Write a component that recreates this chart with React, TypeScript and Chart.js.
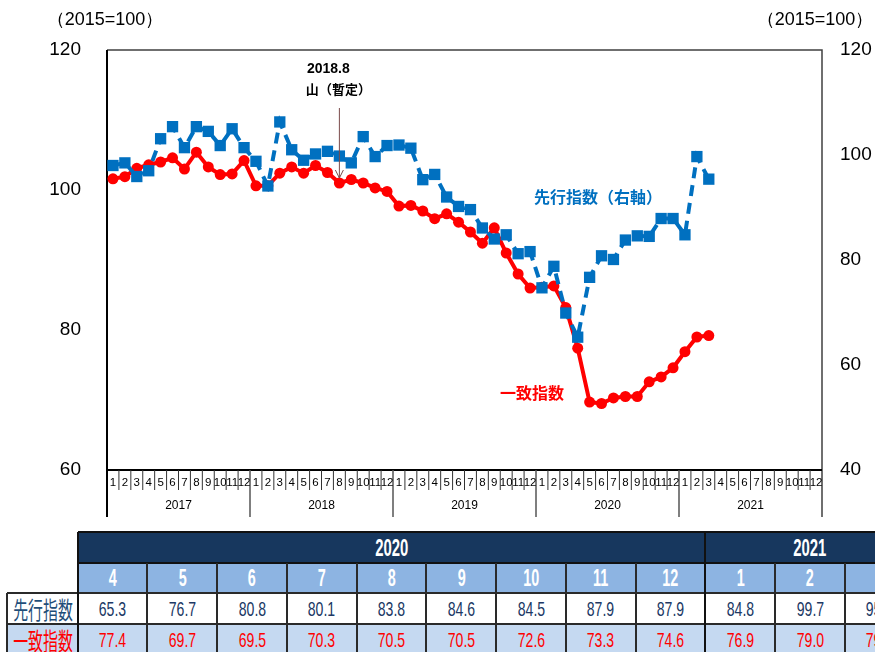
import React, { useEffect, useRef } from 'react';
import { Chart, registerables } from 'chart.js';

Chart.register(...registerables);

// ---------- data ----------
const YEARS = ['2017', '2018', '2019', '2020', '2021'];
const MONTHS = ['1', '2', '3', '4', '5', '6', '7', '8', '9', '10', '11', '12'];
const CATEGORIES = YEARS.flatMap((y) => MONTHS.map((m) => `${y}-${m}`));

// 先行指数 (right axis)
const LEADING: (number | null)[] = [
  98.0, 98.5, 95.9, 97.0, 103.1, 105.4, 101.4, 105.4, 104.5, 101.8, 105.0, 101.4,
  98.8, 94.1, 106.3, 101.0, 99.0, 100.2, 100.7, 99.8, 98.5, 103.5, 99.7, 101.8,
  101.9, 101.3, 95.3, 96.3, 92.0, 90.2, 89.6, 86.1, 84.0, 84.8, 81.2, 81.6,
  74.7, 78.8, 69.9, 65.3, 76.7, 80.8, 80.1, 83.8, 84.6, 84.5, 87.9, 87.9,
  84.8, 99.7, 95.4, null, null, null, null, null, null, null, null, null,
];

// 一致指数 (left axis)
const COINCIDENT: (number | null)[] = [
  101.6, 101.9, 103.1, 103.6, 104.0, 104.6, 103.0, 105.4, 103.3, 102.2, 102.3, 104.2,
  100.6, 100.6, 102.4, 103.3, 102.4, 103.5, 102.5, 101.0, 101.5, 101.0, 100.3, 99.8,
  97.7, 97.8, 97.0, 95.9, 96.6, 95.4, 94.0, 92.4, 94.6, 91.0, 88.0, 86.0,
  86.1, 86.3, 83.2, 77.4, 69.7, 69.5, 70.3, 70.5, 70.5, 72.6, 73.3, 74.6,
  76.9, 79.0, 79.2, null, null, null, null, null, null, null, null, null,
];

const LEFT_MIN = 60;
const LEFT_MAX = 120;
const RIGHT_MIN = 40;
const RIGHT_MAX = 120;
const TICK_STEP = 20;

const PEAK_INDEX = 19; // 2018.8
const PEAK_LABEL = '2018.8';
const PEAK_LABEL2 = '山（暫定）';
const AXIS_TITLE = '（2015=100）';
const LEADING_NAME = '先行指数';
const COINCIDENT_NAME = '一致指数';
const LEADING_LABEL = '先行指数（右軸）';

// table: 2020.4 .. 2021.3
const TABLE_START = 39;
const TABLE_END = 51;

// ---------- styles ----------
const RED = '#ff0000';
const BLUE = '#0070c0';
const NUM_FONT = "'Liberation Sans', Arial, sans-serif";
const JP_FONT = "'Noto Sans CJK JP', 'Noto Sans', sans-serif";

const overlayPlugin = {
  id: 'overlay',
  beforeDatasetsDraw(chart: any) {
    const { ctx, chartArea } = chart;
    const { left, right, top, bottom } = chartArea;
    ctx.save();
    // frame
    ctx.strokeStyle = '#404040';
    ctx.lineWidth = 1.5;
    ctx.beginPath();
    ctx.moveTo(left, top);
    ctx.lineTo(right, top);
    ctx.lineTo(right, bottom + 47);
    ctx.stroke();
    ctx.strokeStyle = '#000';
    ctx.lineWidth = 2;
    ctx.beginPath();
    ctx.moveTo(left, top);
    ctx.lineTo(left, bottom + 47);
    ctx.moveTo(left, bottom);
    ctx.lineTo(right, bottom);
    ctx.stroke();

    // category axis (months & years)
    const x = chart.scales.x;
    const n = CATEGORIES.length;
    const w = (right - left) / n;
    for (let i = 1; i < n; i++) {
      const px = x.getPixelForValue(i) - w / 2;
      ctx.beginPath();
      if (i % 12 === 0) {
        ctx.strokeStyle = '#555';
        ctx.lineWidth = 1.5;
        ctx.moveTo(px, bottom);
        ctx.lineTo(px, bottom + 47);
      } else {
        ctx.strokeStyle = '#333';
        ctx.lineWidth = 1;
        ctx.moveTo(px, bottom);
        ctx.lineTo(px, bottom + 20);
      }
      ctx.stroke();
    }
    ctx.fillStyle = '#000';
    ctx.textAlign = 'center';
    ctx.textBaseline = 'middle';
    ctx.font = `11.5px ${NUM_FONT}`;
    for (let i = 0; i < n; i++) {
      ctx.fillText(MONTHS[i % 12], x.getPixelForValue(i), bottom + 13);
    }
    ctx.font = `12px ${NUM_FONT}`;
    YEARS.forEach((y, k) => {
      const a = x.getPixelForValue(k * 12) - w / 2;
      const b = x.getPixelForValue(k * 12 + 11) + w / 2;
      ctx.fillText(y, (a + b) / 2, bottom + 36);
    });

    // axis titles
    ctx.font = `18px ${NUM_FONT}`;
    ctx.fillText(AXIS_TITLE, 105, 20);
    ctx.fillText(AXIS_TITLE, 815, 20);
    ctx.restore();
  },
  afterDatasetsDraw(chart: any) {
    const { ctx } = chart;
    const x = chart.scales.x;
    const y = chart.scales.y;
    const px = x.getPixelForValue(PEAK_INDEX);
    const py = y.getPixelForValue(COINCIDENT[PEAK_INDEX] as number) - 5;
    ctx.save();
    ctx.strokeStyle = '#7a4a4a';
    ctx.lineWidth = 1;
    ctx.beginPath();
    ctx.moveTo(px, 108);
    ctx.lineTo(px, py);
    ctx.moveTo(px - 4, py - 8);
    ctx.lineTo(px, py);
    ctx.lineTo(px + 4, py - 8);
    ctx.stroke();

    ctx.fillStyle = '#000';
    ctx.textAlign = 'center';
    ctx.textBaseline = 'middle';
    ctx.font = `bold 14px ${NUM_FONT}`;
    ctx.fillText(PEAK_LABEL, px - 11, 69);
    ctx.font = `bold 13px ${JP_FONT}`;
    ctx.fillText(PEAK_LABEL2, px - 1, 89);

    ctx.font = `bold 16px ${JP_FONT}`;
    ctx.fillStyle = BLUE;
    ctx.textAlign = 'left';
    ctx.fillText(LEADING_LABEL, 534, 197);
    ctx.fillStyle = RED;
    ctx.fillText(COINCIDENT_NAME, 500, 393);
    ctx.restore();
  },
};

function ChartCanvas() {
  const ref = useRef<HTMLCanvasElement | null>(null);
  useEffect(() => {
    if (!ref.current) return;
    const chart = new Chart(ref.current, {
      type: 'line',
      data: {
        labels: CATEGORIES,
        datasets: [
          {
            label: LEADING_NAME,
            data: LEADING,
            yAxisID: 'y2',
            borderColor: BLUE,
            backgroundColor: BLUE,
            borderWidth: 4,
            borderDash: [11, 7],
            pointStyle: 'rect',
            pointRadius: 8,
            pointBackgroundColor: BLUE,
            pointBorderColor: BLUE,
            pointBorderWidth: 0,
            tension: 0,
            order: 0,
          },
          {
            label: COINCIDENT_NAME,
            data: COINCIDENT,
            yAxisID: 'y',
            borderColor: RED,
            backgroundColor: RED,
            borderWidth: 4,
            pointStyle: 'circle',
            pointRadius: 5.5,
            pointBackgroundColor: RED,
            pointBorderColor: RED,
            pointBorderWidth: 0,
            tension: 0,
            order: 1,
          },
        ],
      } as any,
      options: {
        responsive: false,
        animation: false,
        layout: { padding: { top: 50, bottom: 55, left: 0, right: 0 } },
        plugins: { legend: { display: false }, tooltip: { enabled: false } },
        scales: {
          x: { type: 'category', display: false, offset: true },
          y: {
            position: 'left',
            min: LEFT_MIN,
            max: LEFT_MAX,
            ticks: { stepSize: TICK_STEP, color: '#000', font: { size: 19, family: NUM_FONT }, padding: 26 },
            grid: { display: false, drawTicks: false },
            border: { display: false },
            afterFit: (s: any) => {
              s.width = 107;
            },
          },
          y2: {
            position: 'right',
            min: RIGHT_MIN,
            max: RIGHT_MAX,
            ticks: { stepSize: TICK_STEP, color: '#000', font: { size: 19, family: NUM_FONT }, padding: 18 },
            grid: { display: false, drawTicks: false },
            border: { display: false },
            afterFit: (s: any) => {
              s.width = 53;
            },
          },
        },
      } as any,
      plugins: [overlayPlugin],
    });
    return () => chart.destroy();
  }, []);
  return <canvas ref={ref} width={875} height={525} style={{ position: 'absolute', left: 0, top: 0, display: 'block' }} />;
}

// ---------- table ----------
const COL_X0 = 77.7;
const COL_W = 69.75;
const ROW_Y = [532, 563, 593, 624, 655];
const LABEL_X = 7.3;
const LINE = '#2a2a2a';

function Txt({ children, size, color, bold, family, sx }: any) {
  return (
    <span
      style={{
        display: 'inline-block',
        fontSize: size,
        color,
        fontWeight: bold ? 'bold' : 'normal',
        fontFamily: family,
        transform: `scaleX(${sx})`,
        whiteSpace: 'nowrap',
        lineHeight: 1,
      }}
    >
      {children}
    </span>
  );
}

function Box({ x, y, w, h, bg, children }: any) {
  return (
    <div
      style={{
        position: 'absolute',
        left: x,
        top: y,
        width: w,
        height: h,
        background: bg,
        display: 'flex',
        alignItems: 'center',
        justifyContent: 'center',
        overflow: 'visible',
      }}
    >
      {children}
    </div>
  );
}

function Line({ x1, y1, x2, y2, c = LINE, t = 2 }: any) {
  const horiz = y1 === y2;
  return (
    <div
      style={{
        position: 'absolute',
        left: horiz ? x1 : x1 - t / 2,
        top: horiz ? y1 - t / 2 : y1,
        width: horiz ? x2 - x1 : t,
        height: horiz ? t : y2 - y1,
        background: c,
      }}
    />
  );
}

function DataTable() {
  const idx: number[] = [];
  for (let i = TABLE_START; i < TABLE_END; i++) idx.push(i);
  const colX = (k: number) => COL_X0 + k * COL_W;
  const groups: { year: string; from: number; to: number }[] = [];
  idx.forEach((i, k) => {
    const yr = YEARS[Math.floor(i / 12)];
    const g = groups[groups.length - 1];
    if (g && g.year === yr) g.to = k;
    else groups.push({ year: yr, from: k, to: k });
  });
  const fmt = (v: number | null) => (v == null ? '' : v.toFixed(1));
  const elems: any[] = [];
  groups.forEach((g) => {
    elems.push(
      <Box key={'g' + g.year} x={colX(g.from)} y={ROW_Y[0]} w={(g.to - g.from + 1) * COL_W} h={ROW_Y[1] - ROW_Y[0]} bg="#17375e">
        <Txt size={24} color="#fff" bold family={NUM_FONT} sx={0.62}>
          {g.year}
        </Txt>
      </Box>
    );
  });
  idx.forEach((i, k) => {
    elems.push(
      <Box key={'m' + i} x={colX(k)} y={ROW_Y[1]} w={COL_W} h={ROW_Y[2] - ROW_Y[1]} bg="#8db4e2">
        <Txt size={24} color="#fff" bold family={NUM_FONT} sx={0.6}>
          {MONTHS[i % 12]}
        </Txt>
      </Box>
    );
    elems.push(
      <Box key={'l' + i} x={colX(k)} y={ROW_Y[2]} w={COL_W} h={ROW_Y[3] - ROW_Y[2]} bg="#ffffff">
        <Txt size={21} color="#203864" family={NUM_FONT} sx={0.67}>
          {fmt(LEADING[i])}
        </Txt>
      </Box>
    );
    elems.push(
      <Box key={'c' + i} x={colX(k)} y={ROW_Y[3]} w={COL_W} h={ROW_Y[4] - ROW_Y[3]} bg="#c5d9f1">
        <Txt size={21} color={RED} family={NUM_FONT} sx={0.67}>
          {fmt(COINCIDENT[i])}
        </Txt>
      </Box>
    );
  });
  elems.push(
    <Box key="lbl1" x={LABEL_X} y={ROW_Y[2]} w={COL_X0 - LABEL_X} h={ROW_Y[3] - ROW_Y[2]} bg="#ffffff">
      <Txt size={24} color="#1f4e79" family={JP_FONT} sx={0.62}>
        {LEADING_NAME}
      </Txt>
    </Box>
  );
  elems.push(
    <Box key="lbl2" x={LABEL_X} y={ROW_Y[3]} w={COL_X0 - LABEL_X} h={ROW_Y[4] - ROW_Y[3]} bg="#c5d9f1">
      <Txt size={24} color={RED} family={JP_FONT} sx={0.62}>
        {COINCIDENT_NAME}
      </Txt>
    </Box>
  );
  const xEnd = colX(idx.length);
  elems.push(<Line key="h0" x1={COL_X0} y1={ROW_Y[0]} x2={xEnd} y2={ROW_Y[0]} c="#111" />);
  elems.push(<Line key="h1" x1={COL_X0} y1={ROW_Y[1]} x2={xEnd} y2={ROW_Y[1]} c="#111" />);
  elems.push(<Line key="h2" x1={LABEL_X} y1={ROW_Y[2]} x2={xEnd} y2={ROW_Y[2]} />);
  elems.push(<Line key="h3" x1={LABEL_X} y1={ROW_Y[3]} x2={xEnd} y2={ROW_Y[3]} />);
  elems.push(<Line key="vL" x1={LABEL_X} y1={ROW_Y[2]} x2={LABEL_X} y2={ROW_Y[4]} />);
  elems.push(<Line key="v0" x1={COL_X0} y1={ROW_Y[0]} x2={COL_X0} y2={ROW_Y[4]} c="#111" />);
  for (let k = 1; k <= idx.length; k++) {
    const isGroup = groups.some((g) => g.from === k);
    elems.push(
      <Line key={'v' + k} x1={colX(k)} y1={isGroup ? ROW_Y[0] : ROW_Y[1]} x2={colX(k)} y2={ROW_Y[4]} c={isGroup ? '#111' : LINE} />
    );
  }
  return <>{elems}</>;
}

export default function App() {
  return (
    <div
      style={{
        position: 'absolute',
        left: 0,
        top: 0,
        width: 875,
        height: 652,
        overflow: 'hidden',
        background: '#fff',
      }}
    >
      <ChartCanvas />
      <DataTable />
    </div>
  );
}
